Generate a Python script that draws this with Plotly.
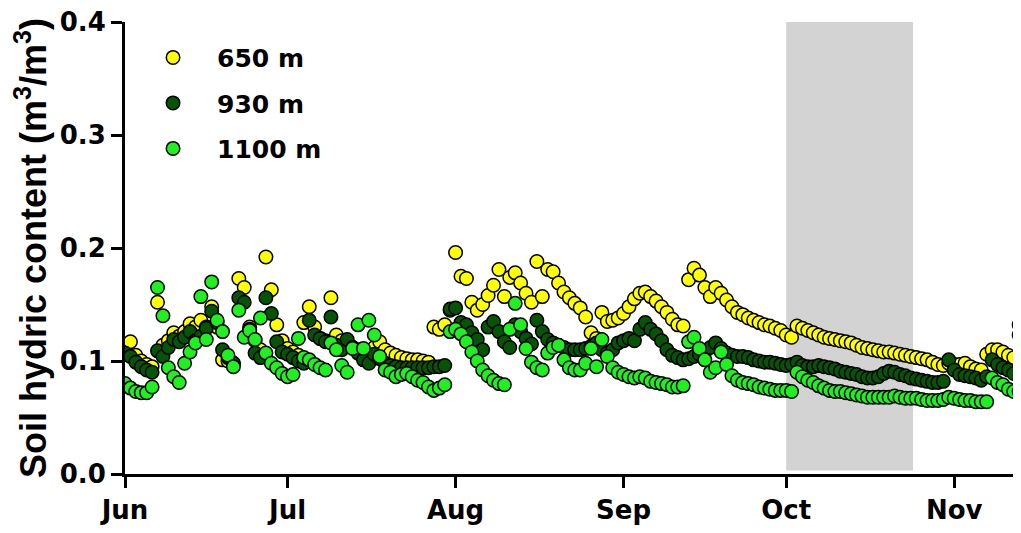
import pandas as pd
import plotly.graph_objects as go

start_date = "2015-06-01"
n_days = 166
dates = pd.date_range(start_date, periods=n_days, freq="D")

series_names = ["650 m", "930 m", "1100 m"]
series_colors = ["#FFFF00", "#065506", "#1FF01F"]

y650 = [
    0.113, 0.117, 0.105, 0.100, 0.097, 0.095, 0.152, 0.114, 0.118, 0.125,
    0.122, 0.126, 0.133, 0.130, 0.136, 0.130, 0.148, 0.130, 0.101, 0.100,
    0.098, 0.173, 0.165, 0.130, 0.118, 0.110, 0.192, 0.163, 0.132, 0.118,
    0.111, 0.108, 0.105, 0.134, 0.148, 0.130, 0.120, 0.118, 0.156, 0.123,
    0.118, 0.115, 0.112, 0.110, 0.108, 0.108, 0.112, 0.117, 0.110, 0.107,
    0.105, 0.103, 0.102, 0.101, 0.101, 0.100, 0.099, 0.130, 0.128, 0.132,
    0.145, 0.196, 0.175, 0.173, 0.152, 0.145, 0.150, 0.158, 0.167, 0.181,
    0.157, 0.174, 0.178, 0.169, 0.160, 0.152, 0.188, 0.157, 0.181, 0.179,
    0.169, 0.161, 0.156, 0.151, 0.147, 0.139, 0.125, 0.120, 0.143, 0.135,
    0.136, 0.138, 0.142, 0.148, 0.155, 0.160, 0.161, 0.157, 0.153, 0.148,
    0.143, 0.137, 0.132, 0.131, 0.172, 0.182, 0.176, 0.165, 0.157, 0.165,
    0.160, 0.154, 0.148, 0.143, 0.141, 0.138, 0.136, 0.134, 0.132, 0.131,
    0.129, 0.127, 0.123, 0.121, 0.131, 0.129, 0.127, 0.125, 0.123, 0.121,
    0.120, 0.119, 0.118, 0.117, 0.116, 0.114, 0.112, 0.111, 0.110, 0.109,
    0.108, 0.108, 0.107, 0.106, 0.105, 0.104, 0.103, 0.102, 0.101, 0.099,
    0.097, 0.096, 0.098, 0.097, 0.097, 0.098, 0.095, 0.093, 0.092, 0.106,
    0.110, 0.110, 0.108, 0.105, 0.103, 0.123,
]

y930 = [
    0.107, 0.104, 0.099, 0.095, 0.092, 0.090, 0.109, 0.104, 0.112, 0.119,
    0.117, 0.121, 0.126, 0.118, 0.122, 0.129, 0.144, 0.134, 0.110, 0.103,
    0.098, 0.156, 0.152, 0.128, 0.107, 0.103, 0.156, 0.142, 0.117, 0.108,
    0.106, 0.103, 0.100, 0.098, 0.136, 0.123, 0.120, 0.117, 0.139, 0.114,
    0.110, 0.119, 0.112, 0.107, 0.101, 0.098, 0.106, 0.102, 0.098, 0.096,
    0.095, 0.094, 0.094, 0.094, 0.094, 0.094, 0.094, 0.095, 0.095, 0.096,
    0.146, 0.147, 0.134, 0.132, 0.125, 0.119, 0.110, 0.130, 0.135, 0.126,
    0.117, 0.112, 0.132, 0.126, 0.120, 0.115, 0.136, 0.126, 0.119, 0.116,
    0.114, 0.112, 0.110, 0.110, 0.110, 0.111, 0.113, 0.116, 0.110, 0.107,
    0.110, 0.116, 0.118, 0.120, 0.118, 0.128, 0.134, 0.128, 0.124, 0.118,
    0.110, 0.105, 0.103, 0.101, 0.102, 0.104, 0.106, 0.108, 0.112, 0.116,
    0.111, 0.107, 0.105, 0.104, 0.104, 0.103, 0.101, 0.100, 0.099, 0.099,
    0.098, 0.097, 0.096, 0.097, 0.099, 0.096, 0.095, 0.095, 0.096, 0.095,
    0.094, 0.093, 0.091, 0.090, 0.089, 0.088, 0.086, 0.085, 0.085, 0.086,
    0.089, 0.091, 0.090, 0.088, 0.087, 0.085, 0.084, 0.083, 0.082, 0.081,
    0.081, 0.082, 0.101, 0.092, 0.088, 0.087, 0.086, 0.085, 0.083, 0.086,
    0.101, 0.097, 0.094, 0.092, 0.089, 0.132,
]

y1100 = [
    0.080, 0.076, 0.073, 0.072, 0.072, 0.077, 0.165, 0.140, 0.094, 0.086,
    0.081, 0.098, 0.108, 0.116, 0.157, 0.119, 0.170, 0.136, 0.126, 0.105,
    0.095, 0.145, 0.121, 0.127, 0.119, 0.138, 0.107, 0.098, 0.094, 0.089,
    0.086, 0.088, 0.120, 0.103, 0.101, 0.097, 0.094, 0.092, 0.116, 0.110,
    0.096, 0.090, 0.111, 0.132, 0.111, 0.136, 0.123, 0.104, 0.092, 0.090,
    0.086, 0.088, 0.089, 0.086, 0.083, 0.081, 0.077, 0.074, 0.076, 0.079,
    0.126, 0.128, 0.124, 0.117, 0.108, 0.100, 0.092, 0.087, 0.083, 0.080,
    0.079, 0.128, 0.151, 0.132, 0.111, 0.099, 0.094, 0.092, 0.107, 0.112,
    0.114, 0.101, 0.094, 0.092, 0.092, 0.098, 0.111, 0.095, 0.119, 0.104,
    0.094, 0.090, 0.088, 0.086, 0.085, 0.086, 0.085, 0.082, 0.081, 0.080,
    0.079, 0.077, 0.077, 0.078, 0.117, 0.121, 0.111, 0.101, 0.090, 0.094,
    0.108, 0.097, 0.087, 0.083, 0.081, 0.080, 0.079, 0.077, 0.076, 0.075,
    0.074, 0.074, 0.074, 0.073, 0.090, 0.086, 0.083, 0.081, 0.078, 0.076,
    0.074, 0.073, 0.073, 0.072, 0.071, 0.070, 0.069, 0.068, 0.068, 0.068,
    0.068, 0.068, 0.069, 0.068, 0.067, 0.067, 0.067, 0.066, 0.065, 0.065,
    0.065, 0.066, 0.068, 0.067, 0.066, 0.065, 0.065, 0.064, 0.064, 0.064,
    0.085, 0.081, 0.079, 0.075, 0.073, 0.073,
]

month_ticks = ["2015-06-01", "2015-07-01", "2015-08-01", "2015-09-01", "2015-10-01", "2015-11-01"]
month_labels = ["Jun", "Jul", "Aug", "Sep", "Oct", "Nov"]
y_ticks = [0.0, 0.1, 0.2, 0.3, 0.4]
y_tick_labels = ["0.0", "0.1", "0.2", "0.3", "0.4"]
shade_start = "2015-10-01"
shade_end = "2015-10-24 10:00"
x_end = "2015-11-13 08:00"

TITLE_FONT = "Arial, Liberation Sans, sans-serif"
TICK_FONT = "DejaVu Sans, Arial, sans-serif"

fig = go.Figure()
for i, (name, color, vals) in enumerate(zip(series_names, series_colors, [y650, y930, y1100])):
    fig.add_trace(go.Scatter(
        x=dates, y=vals, mode="markers", name=name,
        legendgroup=f"g{i}",
        marker=dict(size=13.5, color=color, line=dict(color="black", width=1.5)),
    ))

fig.add_shape(type="rect", xref="x", yref="y", x0=shade_start, x1=shade_end,
              y0=0.003, y1=0.4, fillcolor="#D3D3D3", line=dict(width=0), layer="below")

# the page body adds an 8px offset; margins compensate so the plot area matches
fig.update_layout(
    width=1021, height=533,
    margin=dict(l=117, r=8, t=14, b=67),
    paper_bgcolor="white", plot_bgcolor="white",
    font=dict(family=TITLE_FONT, color="black"),
    showlegend=True,
    legend=dict(x=0.0045, y=0.972, xanchor="left", yanchor="top",
                bgcolor="rgba(0,0,0,0)", tracegroupgap=10, itemwidth=78,
                font=dict(size=25, family=TICK_FONT, color="black", weight="bold")),
    xaxis=dict(
        type="date", range=[start_date, x_end], automargin=False,
        tickvals=month_ticks, ticktext=[f"<b>{t}</b>" for t in month_labels],
        tickfont=dict(size=26, family=TICK_FONT, color="black"),
        ticklabeloverflow="allow",
        showgrid=False, zeroline=False,
        showline=True, linecolor="black", linewidth=3,
        ticks="outside", ticklen=11, tickwidth=3, tickcolor="black",
    ),
    yaxis=dict(
        range=[0, 0.4], automargin=False,
        tickvals=y_ticks, ticktext=[f"<b>{t}</b>" for t in y_tick_labels],
        tickfont=dict(size=26, family=TICK_FONT, color="black"),
        ticklabeloverflow="allow",
        showgrid=False, zeroline=False,
        showline=True, linecolor="black", linewidth=3,
        ticks="outside", ticklen=11, tickwidth=3, tickcolor="black",
        title=dict(text="<b>Soil hydric content (m<sup>3</sup>/m<sup>3</sup>)</b>",
                   font=dict(size=36, family=TITLE_FONT, color="black"), standoff=8),
    ),
)

fig.write_html("out.html")
